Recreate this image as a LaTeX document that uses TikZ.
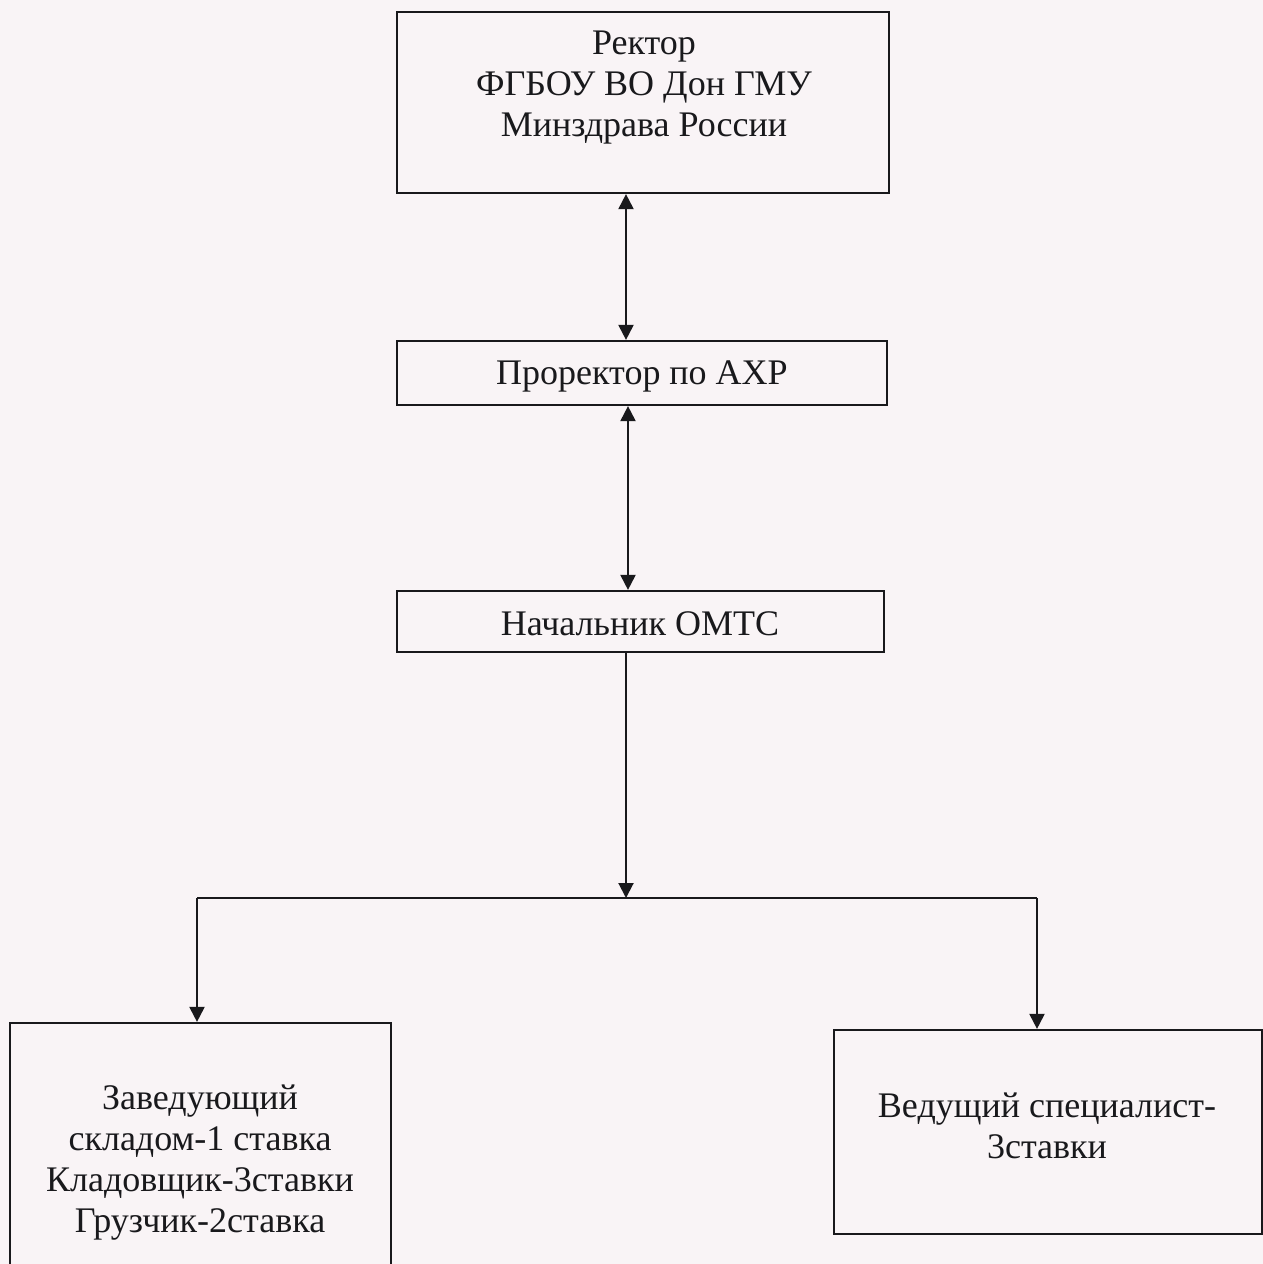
\documentclass[tikz,border=0pt]{standalone}
\usepackage{fontspec}
\setmainfont{Liberation Serif}
\usetikzlibrary{arrows.meta}
\definecolor{paper}{RGB}{249,244,246}
\definecolor{ink}{RGB}{25,25,28}
\begin{document}
\begin{tikzpicture}[x=0.5pt,y=-0.5pt,
  box/.style={draw=ink,line width=1.1pt,rectangle,inner sep=0pt},
  lbl/.style={align=center,text=ink,font=\fontsize{18}{20.5}\selectfont,inner sep=0pt},
  conn/.style={draw=ink,line width=1pt},
  tip/.style={-{Triangle[width=7.5pt,length=7.5pt]}},
  dtip/.style={{Triangle[width=7.5pt,length=7.5pt]}-{Triangle[width=7.5pt,length=7.5pt]}}]
\useasboundingbox (0,0) rectangle (1263,1264);
\fill[paper] (0,0) rectangle (1263,1264);
\clip (0,0) rectangle (1263,1264);
% boxes
\node[box,minimum width=246pt,minimum height=90.5pt] (b1) at (643,102.5) {};
\node[lbl] (t1) at (644,88) {Ректор\\ФГБОУ ВО Дон ГМУ\\Минздрава России};
\node[box,minimum width=245pt,minimum height=32pt] (b2) at (642,373) {};
\node[lbl] (t2) at (642,376) {Проректор по АХР};
\node[box,minimum width=243.5pt,minimum height=30.5pt] (b3) at (640.5,621.5) {};
\node[lbl] (t3) at (640,624) {Начальник ОМТС};
\node[box,minimum width=190.5pt,minimum height=130pt] (b4) at (200.5,1153) {};
\node[lbl] (t4) at (200,1163) {Заведующий\\складом-1 ставка\\Кладовщик-3ставки\\Грузчик-2ставка};
\node[box,minimum width=214pt,minimum height=102pt] (b5) at (1048,1132) {};
\node[lbl] (t5) at (1047,1126) {Ведущий специалист-\\3ставки};
% connectors
\coordinate (j) at (626,898);
\coordinate (jl) at (197,898);
\coordinate (jr) at (1037,898);
\draw[conn,dtip] (b1.south -| j) -- (b2.north -| j);
\draw[conn,dtip] ([xshift=1pt]b2.south -| j) -- ([xshift=1pt]b3.north -| j);
\draw[conn,tip] (b3.south -| j) -- (j);
\draw[conn] (jl) -- (jr);
\draw[conn,tip] (jl) -- (b4.north -| jl);
\draw[conn,tip] (jr) -- (b5.north -| jr);
\end{tikzpicture}
\end{document}
